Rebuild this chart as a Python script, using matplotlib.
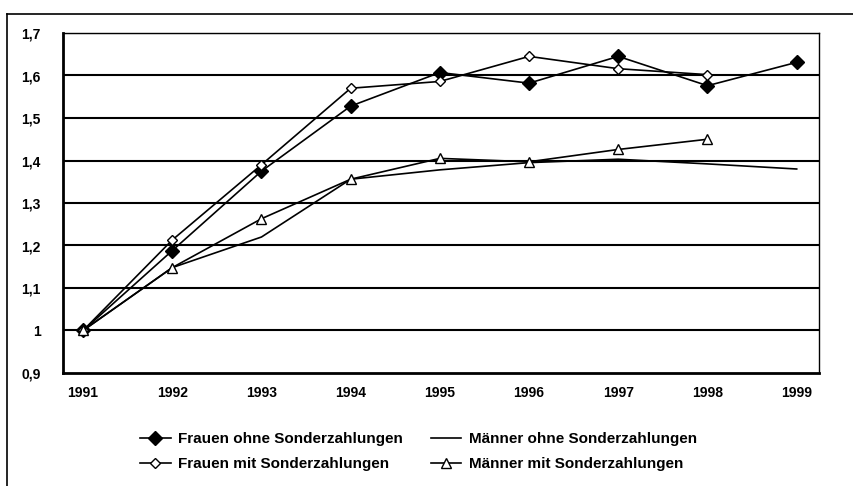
import matplotlib
matplotlib.use("Agg")
import matplotlib.pyplot as plt
from matplotlib.lines import Line2D

plt.rcParams['font.family'] = ['Liberation Sans', 'DejaVu Sans']
plt.rcParams['font.weight'] = 'bold'

years = [1991, 1992, 1993, 1994, 1995, 1996, 1997, 1998, 1999]
frauen_ohne = [1.0, 1.188, 1.375, 1.528, 1.607, 1.582, 1.645, 1.576, 1.631]
frauen_mit = [1.0, 1.213, 1.39, 1.570, 1.586, 1.645, 1.616, 1.602]
maenner_ohne = [1.0, 1.148, 1.22, 1.356, 1.378, 1.395, 1.403, 1.392, 1.380]
maenner_mit = [1.0, 1.148, 1.263, 1.356, 1.405, 1.397, 1.426, 1.450]
y_ticks = [0.9, 1.0, 1.1, 1.2, 1.3, 1.4, 1.5, 1.6, 1.7]
y_labels = ['0,9', '1', '1,1', '1,2', '1,3', '1,4', '1,5', '1,6', '1,7']
labels = ['Frauen ohne Sonderzahlungen', 'Frauen mit Sonderzahlungen',
          'Männer ohne Sonderzahlungen', 'Männer mit Sonderzahlungen']

fig = plt.figure(figsize=(8.54, 4.86), dpi=100)
ax = fig.add_axes([63/854, 1-373/486, (819-63)/854, (373-33)/486])

for y in y_ticks[1:]:
    ax.axhline(y, color='black', lw=1.5, zorder=1)

lw = 1.2
h1, = ax.plot(years, frauen_ohne, color='black', lw=lw, marker='D', markersize=7.5,
              markerfacecolor='black', markeredgecolor='black', zorder=3)
h2, = ax.plot(years[:len(frauen_mit)], frauen_mit, color='black', lw=lw, marker='D',
              markersize=5, markerfacecolor='white', markeredgecolor='black', markeredgewidth=1, zorder=3)
h3, = ax.plot(years, maenner_ohne, color='black', lw=lw, zorder=3)
h4, = ax.plot(years[:len(maenner_mit)], maenner_mit, color='black', lw=lw, marker='^',
              markersize=7, markerfacecolor='white', markeredgecolor='black', markeredgewidth=1, zorder=3)

ax.set_xlim(1991 - 0.225, 1999 + 0.25)
ax.set_ylim(0.9, 1.7)
ax.set_yticks(y_ticks)
ax.set_yticklabels(y_labels, fontsize=10, fontweight='bold')
ax.set_xticks(years)
ax.set_xticklabels([str(y) for y in years], fontsize=10, fontweight='bold')
ax.tick_params(length=0, pad=9)
ax.tick_params(axis='y', pad=16)
for s in ax.spines.values():
    s.set_color('black')
    s.set_linewidth(1.0)
ax.spines['bottom'].set_linewidth(2)
ax.spines['left'].set_linewidth(2)

fig.legend([h1, h2, h3, h4], labels, ncol=2, loc='upper left',
           bbox_to_anchor=(140/854, 1-432/486), frameon=False,
           prop={'size': 11, 'weight': 'bold'}, handlelength=2.0,
           handletextpad=0.5, columnspacing=1.8, labelspacing=0.75,
           borderaxespad=0, borderpad=0)

fig.add_artist(Line2D([7/854, 1], [1-14/486, 1-14/486], color='black', lw=1.2, transform=fig.transFigure))
fig.add_artist(Line2D([7/854, 7/854], [1-14/486, 0], color='black', lw=1.2, transform=fig.transFigure))

fig.savefig('out.png', dpi=100)
